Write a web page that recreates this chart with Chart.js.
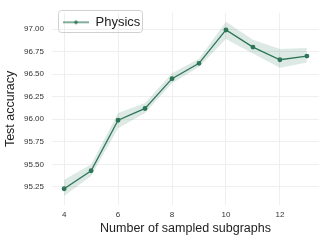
<!DOCTYPE html>
<html>
<head>
	<meta charset="UTF-8">
	<title>Test accuracy vs number of sampled subgraphs</title>
	<style>
		html, body { margin: 0; padding: 0; background: #fff; }
		#wrap { width: 324px; height: 240px; }
	</style>
	<script src="https://cdn.jsdelivr.net/npm/chart.js@4/dist/chart.umd.min.js"></script>
</head>
<body>
	<div id="wrap"><canvas id="canvas" width="324" height="240"></canvas></div>
	<script>
		// values
		var subgraphs = [4, 5, 6, 7, 8, 9, 10, 11, 12, 13];
		var accMean  = [95.23, 95.43, 95.99, 96.12, 96.45, 96.62, 96.99, 96.80, 96.66, 96.70];
		var accLow   = [95.15, 95.37, 95.90, 96.07, 96.40, 96.58, 96.89, 96.73, 96.57, 96.63];
		var accHigh  = [95.33, 95.50, 96.07, 96.18, 96.51, 96.67, 97.08, 96.88, 96.78, 96.79];
		var xTicks = [4, 6, 8, 10, 12];
		var yTicks = [95.25, 95.50, 95.75, 96.00, 96.25, 96.50, 96.75, 97.00];

		var lineColor = 'rgb(45,118,88)';
		var bandColor = 'rgba(45,118,88,0.16)';
		var fontFam = '"Liberation Sans", Arial, sans-serif';

		function pts(arr) {
			return subgraphs.map(function(x, i){ return { x: x, y: arr[i] }; });
		}

		// legend marker: short line with a dot
		var sample = document.createElement('canvas');
		sample.width = 26; sample.height = 6;
		var sc = sample.getContext('2d');
		sc.strokeStyle = lineColor; sc.lineWidth = 1.2;
		sc.beginPath(); sc.moveTo(0, 3); sc.lineTo(26, 3); sc.stroke();
		sc.fillStyle = lineColor;
		sc.beginPath(); sc.arc(13, 3, 1.8, 0, Math.PI * 2); sc.fill();

		// nudge the legend into place and give it a frame
		var legendBox = {
			id: 'legendBox',
			beforeDraw: function(chart){
				var lg = chart.legend, ca = chart.chartArea;
				if (!lg) return;
				var w = lg.width, h = lg.height;
				lg.left = ca.left + 2; lg.top = ca.top - 6;
				lg.right = lg.left + w; lg.bottom = lg.top + h;
			},
			afterDraw: function(chart){
				var ctx = chart.ctx;
				ctx.save();
				ctx.strokeStyle = '#d0d0d0';
				ctx.lineWidth = 1;
				ctx.beginPath();
				ctx.roundRect(58.5, 10.5, 84, 22, 3);
				ctx.stroke();
				ctx.restore();
			}
		};

		var config = {
			type: 'line',
			data: {
				datasets: [{
					label: 'Physics',
					data: pts(accMean),
					borderColor: lineColor,
					backgroundColor: lineColor,
					borderWidth: 1.3,
					pointRadius: 1.8,
					pointHoverRadius: 1.8,
					pointStyle: 'circle',
					tension: 0,
					order: 0
				}, {
					label: 'low',
					data: pts(accLow),
					borderWidth: 0,
					pointRadius: 0,
					fill: false,
					tension: 0,
					order: 2
				}, {
					label: 'high',
					data: pts(accHigh),
					borderWidth: 0,
					pointRadius: 0,
					backgroundColor: bandColor,
					fill: '-1',
					tension: 0,
					order: 1
				}]
			},
			options: {
				responsive: false,
				animation: false,
				layout: { padding: { top: 5, right: 5, left: 0, bottom: 0 } },
				plugins: {
					tooltip: { enabled: false },
					legend: {
						position: 'chartArea',
						align: 'start',
						labels: {
							filter: function(item){ return item.text === 'Physics'; },
							usePointStyle: true,
							pointStyle: sample,
							pointStyleWidth: 26,
							padding: 9,
							color: '#222',
							font: { family: fontFam, size: 13 }
						}
					}
				},
				scales: {
					x: {
						type: 'linear',
						min: 3.55,
						max: 13.45,
						afterBuildTicks: function(s){ s.ticks = xTicks.map(function(v){ return { value: v }; }); },
						afterFit: function(s){ s.height = 35; },
						grid: { color: '#efefef', drawTicks: false },
						border: { display: false },
						ticks: { color: '#333', font: { family: fontFam, size: 8 }, padding: 5, maxRotation: 0 },
						title: {
							display: true,
							text: 'Number of sampled subgraphs',
							color: '#222',
							font: { family: fontFam, size: 12.5 },
							padding: { top: 2, bottom: 4 }
						}
					},
					y: {
						type: 'linear',
						min: 95.05,
						max: 97.18,
						afterBuildTicks: function(s){ s.ticks = yTicks.map(function(v){ return { value: v }; }); },
						afterFit: function(s){ s.width = 52; },
						grid: { color: '#efefef', drawTicks: false },
						border: { display: false },
						ticks: {
							color: '#333',
							font: { family: fontFam, size: 8 },
							padding: 8,
							callback: function(v){ return Number(v).toFixed(2); }
						},
						title: {
							display: true,
							text: 'Test accuracy',
							color: '#222',
							font: { family: fontFam, size: 12.5 },
							padding: { top: 3, bottom: 2 }
						}
					}
				}
			},
			plugins: [legendBox]
		};

		new Chart(document.getElementById('canvas').getContext('2d'), config);
	</script>
</body>
</html>
